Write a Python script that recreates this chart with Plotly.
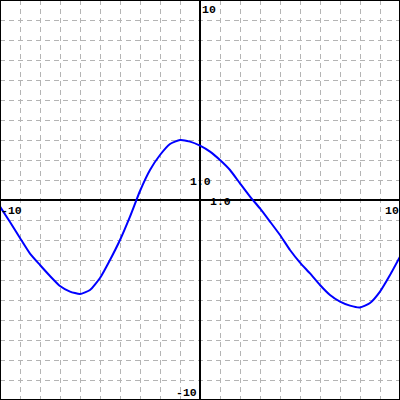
import plotly.graph_objects as go

# Curve samples
x_vals = [-10, -9.5, -9, -8.5, -8, -7.5, -7, -6.5, -6, -5.5, -5, -4.5, -4, -3.5, -3, -2.5, -2, -1.5, -1, -0.5,
          0, 0.5, 1, 1.5, 2, 2.5, 3, 3.5, 4, 4.5, 5, 5.5, 6, 6.5, 7, 7.5, 8, 8.5, 9, 9.5, 10]
y_vals = [-0.33, -1.1, -1.9, -2.68, -3.25, -3.8, -4.3, -4.58, -4.7, -4.5, -3.9, -3.0, -2.0, -0.83, 0.45, 1.5, 2.25, 2.8, 3.0, 2.92,
          2.72, 2.42, 2.0, 1.5, 0.83, 0.17, -0.42, -1.08, -1.75, -2.5, -3.13, -3.67, -4.25, -4.75, -5.08, -5.28, -5.37, -5.15, -4.58, -3.75, -2.83]

x_range = [-10, 10]
y_range = [-10, 10]
tick_step = 1

fig = go.Figure()
fig.add_trace(go.Scatter(x=x_vals, y=y_vals, mode="lines",
                         line=dict(color="#0000ff", width=2, shape="spline", smoothing=0.5),
                         hoverinfo="skip"))

axis_common = dict(showgrid=True, gridcolor="#b4b4b4", griddash="5px,4px", gridwidth=1,
                   zeroline=True, zerolinecolor="#000000", zerolinewidth=1.5,
                   showticklabels=False, ticks="", showline=False, dtick=tick_step, tick0=0,
                   fixedrange=True)
fig.update_xaxes(range=x_range, **axis_common)
fig.update_yaxes(range=y_range, **axis_common)

font = dict(family="Liberation Mono", size=11.5, color="#000000", weight="bold")
labels = [
    ("10", 0, 10, "left", "top", 0, -1),
    ("-10", 0, -10, "right", "bottom", -1, -1),
    ("-10", -10, 0, "left", "top", -1, -2),
    ("10", 10, 0, "right", "top", 1, -2),
    ("1.0", 0, 1, "center", "middle", 0, -1),
    ("1.0", 1, 0, "center", "middle", 0, -1),
]
for txt, lx, ly, xa, ya, dx, dy in labels:
    fig.add_annotation(x=lx, y=ly, text=txt, showarrow=False, xanchor=xa, yanchor=ya,
                       xshift=dx, yshift=dy, font=font)

fig.add_shape(type="rect", xref="paper", yref="paper", x0=0, y0=0, x1=1, y1=1,
              line=dict(color="#000000", width=2))

fig.update_layout(width=400, height=400, margin=dict(l=0, r=0, t=0, b=0),
                  plot_bgcolor="#ffffff", paper_bgcolor="#ffffff", showlegend=False)

fig.write_html("out.html", config={"displayModeBar": False, "staticPlot": True},
               post_script="document.body.style.margin='0';document.body.style.padding='0';document.body.style.overflow='hidden';")
